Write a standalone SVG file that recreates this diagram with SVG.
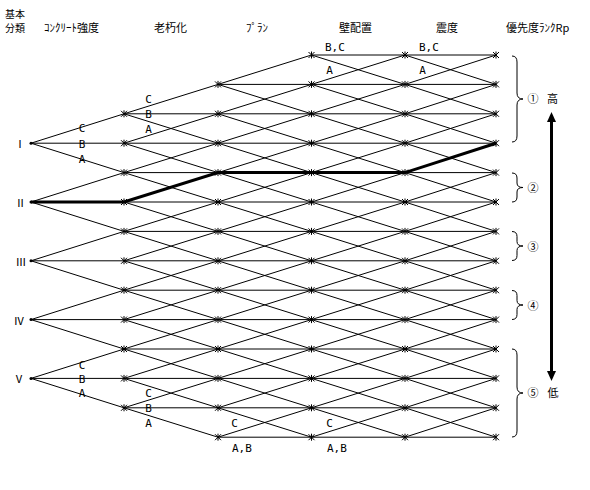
<svg xmlns="http://www.w3.org/2000/svg" xmlns:xlink="http://www.w3.org/1999/xlink" width="590" height="490" viewBox="0 0 590 490">
<style>
.e{fill:none;stroke:#000;stroke-width:1}
.thick{fill:none;stroke:#000;stroke-width:3}
.h{font-family:"Noto Sans CJK JP","Noto Sans CJK SC",sans-serif;font-size:11px;fill:#000}
.s{font-size:10px}
.r{font-family:"Noto Sans CJK JP","DejaVu Sans",sans-serif;font-size:11px;fill:#000;text-anchor:middle}
.l{font-family:"DejaVu Sans Mono","Liberation Mono",monospace;font-size:11px;fill:#000}
.c{text-anchor:middle}
.br{fill:none;stroke:#000;stroke-width:1}
</style>
<defs>
<path id="m" d="M0,-3.5V3.5M-3,-3L3,3M-3,3L3,-3" stroke="#000" stroke-width="1" fill="none"/>
<g id="r2to12">
<use href="#m" y="113.8"/><use href="#m" y="143.2"/><use href="#m" y="172.6"/><use href="#m" y="202"/><use href="#m" y="231.4"/><use href="#m" y="260.8"/><use href="#m" y="290.2"/><use href="#m" y="319.6"/><use href="#m" y="349"/><use href="#m" y="378.4"/><use href="#m" y="407.8"/>
</g>
<g id="r1to13"><use href="#r2to12"/><use href="#m" y="84.4"/><use href="#m" y="437.2"/></g>
<g id="r0to13"><use href="#r1to13"/><use href="#m" y="55"/></g>
</defs>

<!-- headers -->
<g id="headers">
<text class="h s" x="5" y="18">基本</text>
<text class="h s" x="5" y="32">分類</text>
<text class="h" x="44" y="32">ｺﾝｸﾘｰﾄ強度</text>
<text class="h" x="154" y="32">老朽化</text>
<text class="h" x="246" y="32">ﾌﾟﾗﾝ</text>
<text class="h" x="339" y="32">壁配置</text>
<text class="h" x="436" y="32">震度</text>
<text class="h" x="506" y="32">優先度ﾗﾝｸRp</text>
</g>

<!-- connectors -->
<g id="connectors">
<path class="e" d="M311.5,55H496M218,84.4H496M124,113.8H496M31,143.2H496M124,172.6H496M31,202H496M124,231.4H496M31,260.8H496M124,290.2H496M31,319.6H496M124,349H496M31,378.4H496M124,407.8H496M218,437.2H496"/>
<path class="e" d="M31,143.2L124,113.8L218,84.4L311.5,55
M124,143.2L218,113.8L311.5,84.4L405,55
M31,202L124,172.6L218,143.2L311.5,113.8L405,84.4L496,55
M124,202L218,172.6L311.5,143.2L405,113.8L496,84.4
M31,260.8L124,231.4L218,202L311.5,172.6L405,143.2L496,113.8
M124,260.8L218,231.4L311.5,202L405,172.6L496,143.2
M31,319.6L124,290.2L218,260.8L311.5,231.4L405,202L496,172.6
M124,319.6L218,290.2L311.5,260.8L405,231.4L496,202
M31,378.4L124,349L218,319.6L311.5,290.2L405,260.8L496,231.4
M124,378.4L218,349L311.5,319.6L405,290.2L496,260.8
M124,407.8L218,378.4L311.5,349L405,319.6L496,290.2
M218,407.8L311.5,378.4L405,349L496,319.6
M218,437.2L311.5,407.8L405,378.4L496,349
M311.5,437.2L405,407.8L496,378.4
M405,437.2L496,407.8"/>
<path class="e" d="M405,55L496,84.4
M311.5,55L405,84.4L496,113.8
M311.5,84.4L405,113.8L496,143.2
M218,84.4L311.5,113.8L405,143.2L496,172.6
M218,113.8L311.5,143.2L405,172.6L496,202
M124,113.8L218,143.2L311.5,172.6L405,202L496,231.4
M124,143.2L218,172.6L311.5,202L405,231.4L496,260.8
M31,143.2L124,172.6L218,202L311.5,231.4L405,260.8L496,290.2
M124,202L218,231.4L311.5,260.8L405,290.2L496,319.6
M31,202L124,231.4L218,260.8L311.5,290.2L405,319.6L496,349
M124,260.8L218,290.2L311.5,319.6L405,349L496,378.4
M31,260.8L124,290.2L218,319.6L311.5,349L405,378.4L496,407.8
M124,319.6L218,349L311.5,378.4L405,407.8L496,437.2
M31,319.6L124,349L218,378.4L311.5,407.8L405,437.2
M124,378.4L218,407.8L311.5,437.2
M31,378.4L124,407.8L218,437.2"/>
<path class="thick" d="M31,202L124,202L218,172.6L405,172.6L496,143.2"/>
</g>

<!-- root nodes -->
<g id="node-I"><circle cx="31" cy="143.2" r="1.5"/><text class="r" x="20" y="148">Ⅰ</text></g>
<g id="node-II"><circle cx="31" cy="202" r="1.5"/><text class="r" x="20.5" y="206.5">Ⅱ</text></g>
<g id="node-III"><circle cx="31" cy="260.8" r="1.5"/><text class="r" x="21" y="265.5">Ⅲ</text></g>
<g id="node-IV"><circle cx="31" cy="319.6" r="1.5"/><text class="r" x="19" y="324.5">Ⅳ</text></g>
<g id="node-V"><circle cx="31" cy="378.4" r="1.5"/><text class="r" x="19" y="383">Ⅴ</text></g>

<!-- lattice node columns -->
<g id="col-concrete"><use href="#r2to12" x="124"/></g>
<g id="col-aging"><use href="#r1to13" x="218"/></g>
<g id="col-plan"><use href="#r0to13" x="311.5"/></g>
<g id="col-wall"><use href="#r0to13" x="405"/></g>
<g id="col-rank"><use href="#r0to13" x="496"/></g>

<!-- branch labels -->
<g id="labels">
<text class="l c" x="82" y="131.5">C</text>
<text class="l c" x="82" y="148">B</text>
<text class="l c" x="82" y="163">A</text>
<text class="l c" x="148.5" y="103">C</text>
<text class="l c" x="148.5" y="118">B</text>
<text class="l c" x="148.5" y="133">A</text>
<text class="l" x="325" y="51">B,C</text>
<text class="l c" x="329.5" y="74">A</text>
<text class="l" x="419" y="51">B,C</text>
<text class="l c" x="422.5" y="74">A</text>
<text class="l c" x="82" y="369">C</text>
<text class="l c" x="82" y="382.5">B</text>
<text class="l c" x="82" y="397">A</text>
<text class="l c" x="148.5" y="397">C</text>
<text class="l c" x="148.5" y="411.5">B</text>
<text class="l c" x="148.5" y="427">A</text>
<text class="l c" x="234.5" y="427">C</text>
<text class="l" x="232" y="452">A,B</text>
<text class="l c" x="329.5" y="427">C</text>
<text class="l" x="327" y="452">A,B</text>
</g>

<!-- rank groups -->
<g id="rank-1">
<path class="br" d="M512,56Q517,56 517,62V93Q517,99 523,99Q517,99 517,105V136Q517,142 512,142"/>
<text class="h c" x="533" y="103">①</text>
</g>
<g id="rank-2">
<path class="br" d="M512,173Q517,173 517,178V183Q517,187.5 523,187.5Q517,187.5 517,192V197Q517,202 512,202"/>
<text class="h c" x="533" y="192">②</text>
</g>
<g id="rank-3">
<path class="br" d="M512,231.5Q517,231.5 517,236.5V241.5Q517,246 523,246Q517,246 517,250.5V255.5Q517,260.5 512,260.5"/>
<text class="h c" x="533" y="250.5">③</text>
</g>
<g id="rank-4">
<path class="br" d="M512,290.5Q517,290.5 517,295.5V300.5Q517,305 523,305Q517,305 517,309.5V314.5Q517,319.5 512,319.5"/>
<text class="h c" x="533" y="309.5">④</text>
</g>
<g id="rank-5">
<path class="br" d="M512,349Q517,349 517,355V387Q517,393 523,393Q517,393 517,399V431Q517,437 512,437"/>
<text class="h c" x="533" y="397">⑤</text>
</g>

<!-- priority arrow -->
<g id="priority-arrow">
<line x1="551.5" y1="120" x2="551.5" y2="373" stroke="#000" stroke-width="3"/>
<polygon points="551.5,112 547,122 556,122"/>
<polygon points="551.5,381 547,371 556,371"/>
<text class="h c" x="552.5" y="103">高</text>
<text class="h c" x="553" y="397">低</text>
</g>
</svg>
